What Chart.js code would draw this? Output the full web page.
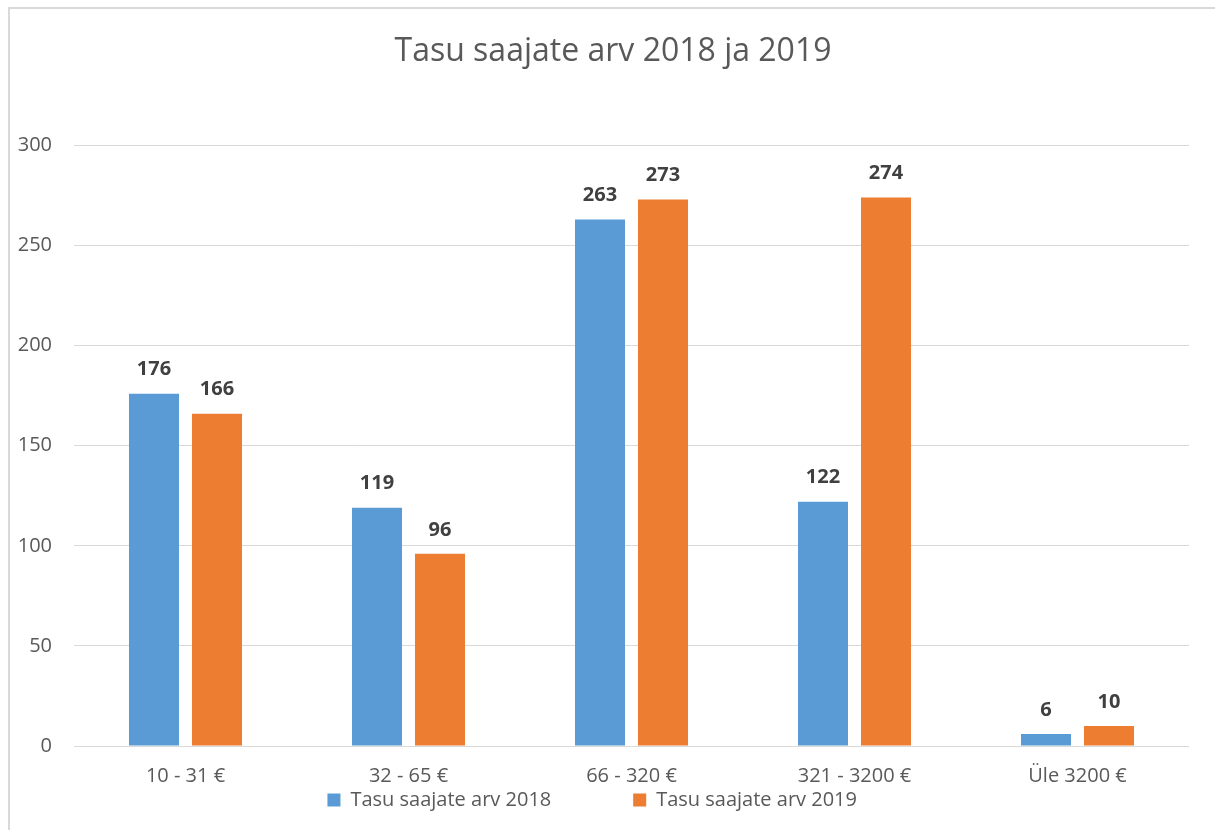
<!DOCTYPE html>
<html>
<head>
<meta charset="utf-8">
<script src="https://cdn.jsdelivr.net/npm/chart.js@4.4.1/dist/chart.umd.min.js"></script>
<style>
  html, body { margin: 0; padding: 0; background: #fff; overflow: hidden; }
  #wrap { position: relative; width: 1215px; height: 830px; }
  #frame { position: absolute; left: 8px; top: 7px; width: 1300px; height: 900px; border: 2px solid #d9d9d9; }
  canvas { position: absolute; left: 0; top: 0; }
</style>
</head>
<body>
<div id="wrap">
  <div id="frame"></div>
  <canvas id="chart" width="1215" height="830"></canvas>
</div>
<script>
// andmed
const categories = ['10 - 31 €', '32 - 65 €', '66 - 320 €', '321 - 3200 €', 'Üle 3200 €'];
const values2018 = [176, 119, 263, 122, 6];
const values2019 = [166, 96, 273, 274, 10];
const seriesNames = ['Tasu saajate arv 2018', 'Tasu saajate arv 2019'];
const yTicks = [0, 50, 100, 150, 200, 250, 300];

const FONT = '"Open Sans", Lato, sans-serif';

// väärtused tulpade kohale
const barLabels = {
  id: 'barLabels',
  afterDatasetsDraw(chart) {
    const ctx = chart.ctx;
    ctx.save();
    ctx.font = 'bold 20px ' + FONT;
    ctx.fillStyle = '#404040';
    ctx.textAlign = 'center';
    ctx.textBaseline = 'middle';
    chart.data.datasets.forEach((ds, i) => {
      chart.getDatasetMeta(i).data.forEach((bar, j) => {
        ctx.fillText(ds.data[j], bar.x, bar.y - 24);
      });
    });
    ctx.restore();
  }
};

new Chart(document.getElementById('chart'), {
  type: 'bar',
  data: {
    labels: categories,
    datasets: [
      { label: seriesNames[0], data: values2018, backgroundColor: '#5b9bd5' },
      { label: seriesNames[1], data: values2019, backgroundColor: '#ed7d31' }
    ]
  },
  options: {
    responsive: false,
    animation: false,
    events: [],
    datasets: { bar: { categoryPercentage: 0.565, barPercentage: 0.794 } },
    layout: { padding: { left: 11, right: 0, top: 0, bottom: 10 } },
    plugins: {
      title: {
        display: true,
        text: 'Tasu saajate arv 2018 ja 2019',
        color: '#595959',
        font: { family: FONT, size: 32, weight: 'normal' },
        padding: { top: 33, bottom: 74 }
      },
      legend: {
        position: 'bottom',
        labels: {
          color: '#595959',
          font: { family: FONT, size: 20 },
          boxWidth: 13,
          boxHeight: 13,
          padding: 4,
          // vahe kahe legendi kirje vahel (nähtamatud tühikud)
          generateLabels(chart) {
            const items = Chart.defaults.plugins.legend.labels.generateLabels(chart);
            items[0].text += ' '.repeat(15);
            items[1].text += ' '.repeat(8);
            return items;
          }
        }
      },
      tooltip: { enabled: false }
    },
    scales: {
      x: {
        grid: { display: false },
        border: { display: false },
        ticks: { color: '#595959', font: { family: FONT, size: 20 }, padding: 10 },
        afterFit(scale) { scale.height = 40; }
      },
      y: {
        min: 0,
        max: 300,
        afterBuildTicks(scale) { scale.ticks = yTicks.map(v => ({ value: v })); },
        grid: { color: '#d9d9d9', lineWidth: 1, drawTicks: false },
        border: { display: false },
        ticks: { color: '#595959', font: { family: FONT, size: 20 }, padding: 22 },
        afterFit(scale) { scale.width = 63; }
      },
      // tühi parem telg, et jätta paremale vaba ruum
      yRight: {
        position: 'right',
        display: true,
        grid: { display: false },
        border: { display: false },
        ticks: { display: false },
        afterFit(scale) { scale.width = 26; }
      }
    }
  },
  plugins: [barLabels]
});
</script>
</body>
</html>
